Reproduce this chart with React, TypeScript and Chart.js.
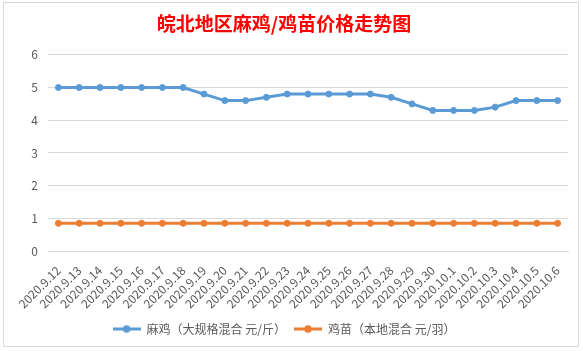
import React, { useEffect, useRef } from "react";
import { Chart, registerables } from "chart.js";

Chart.register(...registerables);

const categories = [
  "2020.9.12", "2020.9.13", "2020.9.14", "2020.9.15", "2020.9.16", "2020.9.17",
  "2020.9.18", "2020.9.19", "2020.9.20", "2020.9.21", "2020.9.22", "2020.9.23",
  "2020.9.24", "2020.9.25", "2020.9.26", "2020.9.27", "2020.9.28", "2020.9.29",
  "2020.9.30", "2020.10.1", "2020.10.2", "2020.10.3", "2020.10.4", "2020.10.5",
  "2020.10.6",
];
const maJi = [5, 5, 5, 5, 5, 5, 5, 4.8, 4.6, 4.6, 4.7, 4.8, 4.8, 4.8, 4.8, 4.8, 4.7, 4.5, 4.3, 4.3, 4.3, 4.4, 4.6, 4.6, 4.6];
const jiMiao = [0.85, 0.85, 0.85, 0.85, 0.85, 0.85, 0.85, 0.85, 0.85, 0.85, 0.85, 0.85, 0.85, 0.85, 0.85, 0.85, 0.85, 0.85, 0.85, 0.85, 0.85, 0.85, 0.85, 0.85, 0.85];
const seriesNames = ["麻鸡（大规格混合 元/斤）", "鸡苗（本地混合 元/羽）"];
const seriesColors = ["#5B9BD5", "#ED7D31"];
const titleText = "皖北地区麻鸡/鸡苗价格走势图";

const FONT = "'Microsoft YaHei', 'Noto Sans CJK SC', sans-serif";

function makeMarker(color: string): HTMLCanvasElement {
  const c = document.createElement("canvas");
  c.width = 28;
  c.height = 9;
  const ctx = c.getContext("2d")!;
  ctx.strokeStyle = color;
  ctx.lineWidth = 3;
  ctx.beginPath();
  ctx.moveTo(0, 4.5);
  ctx.lineTo(28, 4.5);
  ctx.stroke();
  ctx.fillStyle = color;
  ctx.beginPath();
  ctx.arc(14, 4.5, 3.8, 0, Math.PI * 2);
  ctx.fill();
  return c;
}

const framePlugin = {
  id: "frame",
  beforeDraw(chart: any) {
    const ctx = chart.ctx;
    ctx.save();
    ctx.fillStyle = "#ffffff";
    ctx.fillRect(0, 0, chart.width, chart.height);
    ctx.strokeStyle = "#d9d9d9";
    ctx.lineWidth = 1;
    ctx.strokeRect(3.5, 2.5, 575, 344);
    ctx.restore();
  },
};

export default function App() {
  const ref = useRef<HTMLCanvasElement | null>(null);
  useEffect(() => {
    document.body.style.margin = "0";
    const markers = seriesColors.map(makeMarker);
    const chart = new Chart(ref.current!, {
      type: "line",
      data: {
        labels: categories,
        datasets: [
          {
            label: seriesNames[0],
            data: maJi,
            borderColor: seriesColors[0],
            backgroundColor: seriesColors[0],
            borderWidth: 3,
            pointRadius: 3,
            pointBorderWidth: 1,
            pointBackgroundColor: seriesColors[0],
            pointBorderColor: seriesColors[0],
            tension: 0,
          },
          {
            label: seriesNames[1],
            data: jiMiao,
            borderColor: seriesColors[1],
            backgroundColor: seriesColors[1],
            borderWidth: 3,
            pointRadius: 3,
            pointBorderWidth: 1,
            pointBackgroundColor: seriesColors[1],
            pointBorderColor: seriesColors[1],
            tension: 0,
          },
        ],
      },
      options: {
        animation: false,
        responsive: false,
        layout: { padding: { left: 0, right: 15, top: 0, bottom: 6 } },
        plugins: {
          title: {
            display: true,
            text: titleText,
            color: "#FF0000",
            font: { family: "'Noto Sans CJK SC', serif", size: 19, weight: "bold", lineHeight: 1.2 },
            padding: { top: 12, bottom: 20 },
          },
          legend: {
            position: "bottom",
            labels: {
              usePointStyle: true,
              pointStyleWidth: 28,
              padding: 8,
              color: "#595959",
              font: { family: FONT, size: 12 },
              generateLabels(ch: any) {
                const items = Chart.defaults.plugins.legend.labels.generateLabels(ch);
                return items.map((it: any, i: number) => ({ ...it, pointStyle: markers[i] }));
              },
            },
          },
          tooltip: { enabled: false },
        },
        scales: {
          x: {
            offset: true,
            grid: { display: false, offset: true },
            border: { display: true, color: "#d9d9d9" },
            ticks: {
              color: "#595959",
              font: { family: FONT, size: 12 },
              minRotation: 45,
              maxRotation: 45,
              autoSkip: false,
              padding: 4,
            },
          },
          y: {
            min: 0,
            max: 6,
            grid: { color: "#d9d9d9", drawTicks: false },
            border: { display: false },
            ticks: {
              stepSize: 1,
              color: "#595959",
              font: { family: FONT, size: 12 },
              padding: 10,
            },
            afterFit(scale: any) {
              scale.width = 48;
            },
          },
        },
      },
      plugins: [framePlugin],
    });
    return () => chart.destroy();
  }, []);
  return <canvas ref={ref} width={583} height={351} style={{ display: "block" }} />;
}
